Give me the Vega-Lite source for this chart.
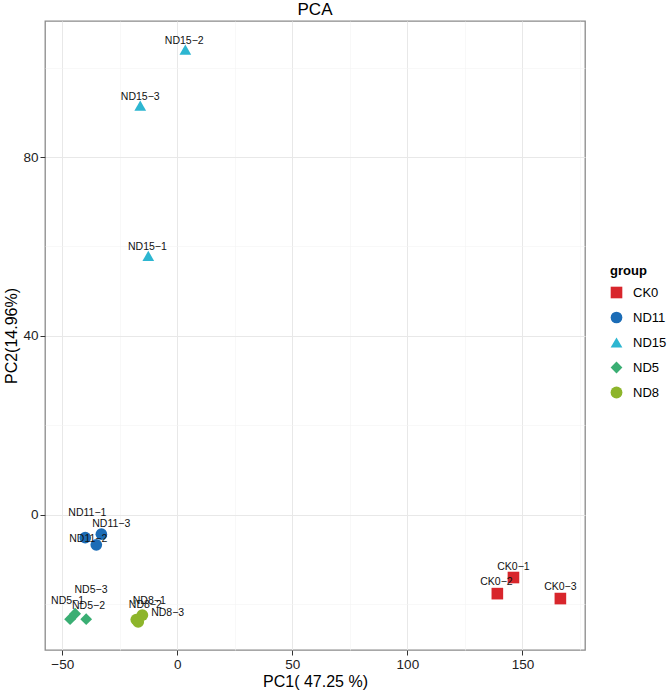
{
  "$schema": "https://vega.github.io/schema/vega-lite/v6.json",
  "width": 540,
  "height": 629,
  "autosize": {"type": "none"},
  "padding": {"left": 45, "top": 21, "right": 86, "bottom": 42},
  "background": "white",
  "title": {"text": "PCA", "fontSize": 17, "font": "Liberation Sans", "fontWeight": "normal", "color": "black", "anchor": "middle", "frame": "group", "offset": 2},
  "data": {
    "values": [
      {"sample": "CK0−1", "group": "CK0", "PC1": 146.1, "PC2": -14.0, "lx": 146.1, "ly": -11.6},
      {"sample": "CK0−2", "group": "CK0", "PC1": 139.1, "PC2": -17.6, "lx": 138.7, "ly": -14.9},
      {"sample": "CK0−3", "group": "CK0", "PC1": 166.5, "PC2": -18.7, "lx": 166.5, "ly": -16.2},
      {"sample": "ND11−1", "group": "ND11", "PC1": -40.0, "PC2": -5.1, "lx": -39.1, "ly": 0.45},
      {"sample": "ND11−2", "group": "ND11", "PC1": -35.2, "PC2": -6.7, "lx": -38.7, "ly": -5.3},
      {"sample": "ND11−3", "group": "ND11", "PC1": -33.0, "PC2": -4.3, "lx": -28.7, "ly": -2.0},
      {"sample": "ND15−1", "group": "ND15", "PC1": -12.6, "PC2": 57.9, "lx": -13.0, "ly": 59.9},
      {"sample": "ND15−2", "group": "ND15", "PC1": 3.5, "PC2": 104.0, "lx": 3.0, "ly": 106.0},
      {"sample": "ND15−3", "group": "ND15", "PC1": -16.1, "PC2": 91.5, "lx": -16.1, "ly": 93.5},
      {"sample": "ND5−1", "group": "ND5", "PC1": -46.6, "PC2": -23.3, "lx": -47.7, "ly": -19.3},
      {"sample": "ND5−2", "group": "ND5", "PC1": -39.6, "PC2": -23.3, "lx": -38.6, "ly": -20.3},
      {"sample": "ND5−3", "group": "ND5", "PC1": -44.4, "PC2": -22.1, "lx": -37.5, "ly": -16.8},
      {"sample": "ND8−1", "group": "ND8", "PC1": -15.2, "PC2": -22.4, "lx": -12.2, "ly": -19.3},
      {"sample": "ND8−2", "group": "ND8", "PC1": -17.8, "PC2": -23.4, "lx": -13.9, "ly": -20.1},
      {"sample": "ND8−3", "group": "ND8", "PC1": -17.0, "PC2": -23.9, "lx": -4.2, "ly": -21.9}
    ]
  },
  "layer": [
    {
      "mark": {"type": "point", "filled": true, "opacity": 1},
      "encoding": {
        "x": {
          "field": "PC1", "type": "quantitative",
          "scale": {"domain": [-57.5, 177.2], "nice": false, "zero": false},
          "axis": {
            "title": "PC1( 47.25 %)",
            "values": [-50, -25, 0, 25, 50, 75, 100, 125, 150, 175],
            "labelExpr": "datum.value % 50 == 0 ? datum.label : ''",
            "tickSize": {"condition": {"test": "datum.value % 50 != 0", "value": 0}, "value": 5},
            "gridColor": {"condition": {"test": "datum.value % 50 != 0", "value": "#f4f4f4"}, "value": "#e8e8e8"},
            "gridWidth": {"condition": {"test": "datum.value % 50 != 0", "value": 0.6}, "value": 1}
          }
        },
        "y": {
          "field": "PC2", "type": "quantitative",
          "scale": {"domain": [-30.2, 110.4], "nice": false, "zero": false},
          "axis": {
            "title": "PC2(14.96%)",
            "values": [-20, 0, 20, 40, 60, 80, 100],
            "labelExpr": "datum.value % 40 == 0 ? datum.label : ''",
            "tickSize": {"condition": {"test": "datum.value % 40 != 0", "value": 0}, "value": 5},
            "gridColor": {"condition": {"test": "datum.value % 40 != 0", "value": "#f4f4f4"}, "value": "#e8e8e8"},
            "gridWidth": {"condition": {"test": "datum.value % 40 != 0", "value": 0.6}, "value": 1}
          }
        },
        "color": {
          "field": "group", "type": "nominal", "title": "group",
          "scale": {"domain": ["CK0", "ND11", "ND15", "ND5", "ND8"], "range": ["#D8262C", "#1B6CB6", "#2DB6D1", "#3AAE73", "#8DB52B"]}
        },
        "shape": {
          "field": "group", "type": "nominal", "title": "group",
          "scale": {"domain": ["CK0", "ND11", "ND15", "ND5", "ND8"], "range": ["square", "circle", "triangle-up", "diamond", "circle"]}
        },
        "size": {
          "field": "group", "type": "nominal", "title": "group",
          "scale": {"domain": ["CK0", "ND11", "ND15", "ND5", "ND8"], "range": [135, 140, 200, 110, 190]}
        }
      }
    },
    {
      "mark": {"type": "text", "fontSize": 10.5, "font": "Liberation Sans", "color": "#111111", "align": "center", "baseline": "middle"},
      "encoding": {
        "x": {"field": "lx", "type": "quantitative"},
        "y": {"field": "ly", "type": "quantitative"},
        "text": {"field": "sample"}
      }
    }
  ],
  "config": {
    "view": {"stroke": "#8a8a8a", "strokeWidth": 1.3},
    "axis": {
      "domain": false,
      "labelFont": "Liberation Sans",
      "labelFontSize": 13.5,
      "labelColor": "#222222",
      "tickColor": "#333333",
      "tickWidth": 1,
      "titleFont": "Liberation Sans",
      "titleFontSize": 16,
      "titleFontWeight": "normal",
      "titleColor": "black",
      "labelPadding": 2,
      "labelFlush": false,
      "labelOverlap": false
    },
    "axisX": {"titlePadding": 3},
    "axisY": {"titlePadding": 3},
    "legend": {
      "orient": "none",
      "legendX": 565,
      "legendY": 244,
      "titleFont": "Liberation Sans",
      "titleFontSize": 13,
      "titleFontWeight": "bold",
      "titleColor": "black",
      "titlePadding": 8,
      "labelFont": "Liberation Sans",
      "labelFontSize": 13,
      "labelColor": "black",
      "rowPadding": 11,
      "symbolOpacity": 1,
      "symbolStrokeWidth": 0,
      "labelOffset": 10
    }
  }
}
